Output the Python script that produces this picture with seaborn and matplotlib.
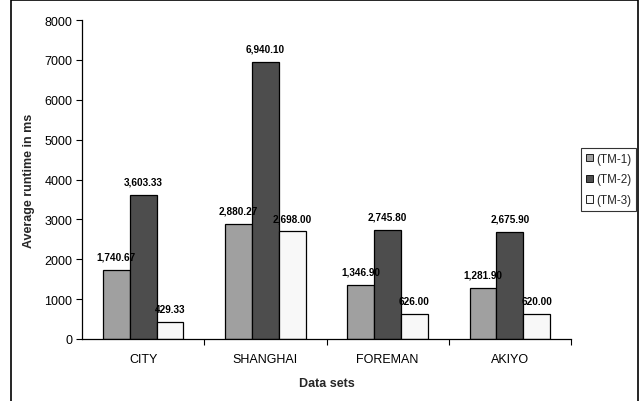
import matplotlib
matplotlib.use("Agg")
import matplotlib.pyplot as plt
from matplotlib.patches import Rectangle
from matplotlib.ticker import FixedLocator, NullFormatter
import seaborn as sns
import pandas as pd

datasets = ["CITY", "SHANGHAI", "FOREMAN", "AKIYO"]
methods = ["(TM-1)", "(TM-2)", "(TM-3)"]
tm1 = [1740.67, 2880.27, 1346.90, 1281.90]
tm2 = [3603.33, 6940.10, 2745.80, 2675.90]
tm3 = [429.33, 2698.00, 626.00, 620.00]
y_ticks = [0, 1000, 2000, 3000, 4000, 5000, 6000, 7000, 8000]

rows = []
for name, vals in zip(methods, [tm1, tm2, tm3]):
    for ds, v in zip(datasets, vals):
        rows.append({"Data sets": ds, "Method": name, "Runtime": v})
df = pd.DataFrame(rows)

sns.set_theme(style="ticks")
plt.rcParams["font.family"] = ["Liberation Sans", "DejaVu Sans"]

fig = plt.figure(figsize=(6.41, 4.02), dpi=100)
ax = fig.add_axes([82 / 641, 1 - 340 / 402, (571 - 82) / 641, (340 - 21) / 402])

palette = ["#a0a0a0", "#4d4d4d", "#f8f8f8"]
sns.barplot(data=df, x="Data sets", y="Runtime", hue="Method",
            palette=palette, order=datasets, hue_order=methods,
            width=0.66, edgecolor="black", linewidth=0.9,
            saturation=1, ax=ax)

for cont in ax.containers:
    ax.bar_label(cont, labels=[f"{v:,.2f}" for v in cont.datavalues],
                 padding=6, fontsize=7.2, fontweight="bold", color="black")

ax.set_ylim(0, 8000)
ax.set_xlim(-0.5, 3.5)
ax.set_yticks(y_ticks)
ax.tick_params(axis="y", labelsize=9, length=4, width=0.8, color="black",
               labelcolor="black", pad=3)
ax.tick_params(axis="x", which="major", length=0, labelsize=9,
               labelcolor="black", pad=10)
ax.xaxis.set_minor_locator(FixedLocator([0.5, 1.5, 2.5, 3.5]))
ax.xaxis.set_minor_formatter(NullFormatter())
ax.tick_params(axis="x", which="minor", length=4, width=0.8, color="black")

ax.set_xlabel("Data sets", fontsize=9, fontweight="bold", labelpad=9)
ax.set_ylabel("Average runtime in ms", fontsize=9, fontweight="bold", labelpad=7)

for side in ["top", "right"]:
    ax.spines[side].set_visible(False)
for side in ["left", "bottom"]:
    ax.spines[side].set_color("black")
    ax.spines[side].set_linewidth(0.9)

leg = ax.legend(loc="upper left", bbox_to_anchor=(581 / 641, 1 - 149 / 402),
                bbox_transform=fig.transFigure, fontsize=8.4, frameon=True,
                fancybox=False, edgecolor="black", handlelength=0.6,
                handleheight=0.6, handletextpad=0.3, borderpad=0.4,
                labelspacing=0.75, borderaxespad=0)
leg.get_frame().set_linewidth(0.8)
for h in leg.legend_handles:
    h.set_edgecolor("black")
    h.set_linewidth(0.6)

fig.patches.append(Rectangle((10.5 / 641, -0.05), (638 - 10.5) / 641, 1.05 - 1 / 402,
                             transform=fig.transFigure, fill=False,
                             edgecolor="black", linewidth=1.2))

fig.savefig("out.png", dpi=100)
